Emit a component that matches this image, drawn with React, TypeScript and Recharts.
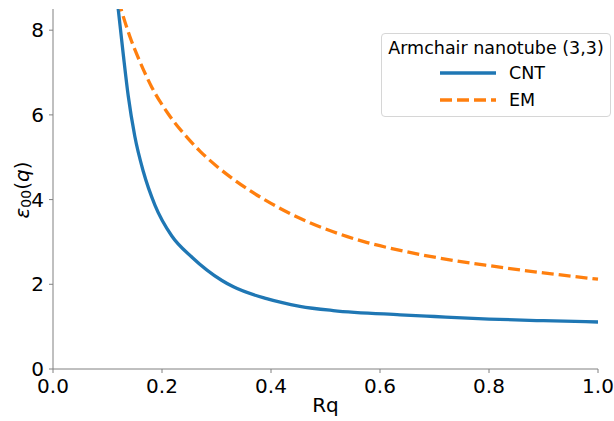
import React from 'react';
import { LineChart, Line, XAxis, YAxis } from 'recharts';

const cntRq = [0.112, 0.12, 0.129, 0.138, 0.15, 0.166, 0.187, 0.218, 0.255, 0.31, 0.331, 0.392, 0.453, 0.514, 0.637, 0.7, 0.8, 0.9, 1.0];
const cntValues = [9.5, 8.46, 7.42, 6.45, 5.5, 4.65, 3.87, 3.14, 2.64, 2.09, 1.94, 1.66, 1.48, 1.38, 1.28, 1.24, 1.18, 1.14, 1.11];
const emRq = [0.12, 0.126, 0.141, 0.16, 0.181, 0.2116, 0.248, 0.27, 0.303, 0.331, 0.392, 0.453, 0.514, 0.575, 0.637, 0.7, 0.8, 0.9, 1.0];
const emValues = [8.72, 8.45, 7.85, 7.24, 6.66, 6.02, 5.44, 5.14, 4.76, 4.48, 3.97, 3.56, 3.24, 2.99, 2.8, 2.64, 2.44, 2.27, 2.12];

const xTicks = [0, 0.2, 0.4, 0.6, 0.8, 1.0];
const yTicks = [0, 2, 4, 6, 8];

const legendTitle = 'Armchair nanotube (3,3)';
const series = [
  { key: 'cnt', name: 'CNT', color: '#1f77b4', dash: undefined as string | undefined, data: cntRq.map((rq, i) => ({ rq, v: cntValues[i] })) },
  { key: 'em', name: 'EM', color: '#ff7f0e', dash: '12 5', data: emRq.map((rq, i) => ({ rq, v: emValues[i] })) },
];

const FONT = '"DejaVu Sans", sans-serif';
const AXIS_GRAY = '#808080';

const YLabel = () => (
  <text
    transform="translate(22, 190) rotate(-90)"
    textAnchor="middle"
    dominantBaseline="central"
    fontFamily={FONT}
    fontSize={20}
    fill="#000"
  >
    <tspan fontStyle="italic">ε</tspan>
    <tspan fontSize={14} dy={4}>00</tspan>
    <tspan dy={-4}>(</tspan>
    <tspan fontStyle="italic">q</tspan>
    <tspan>)</tspan>
  </text>
);

// legend drawn as an overlay so it doesn't eat into the plot area
const LegendBox = () => (
  <div
    style={{
      position: 'absolute',
      left: 381,
      top: 33,
      width: 230,
      height: 84,
      border: '1px solid #d6d6d6',
      borderRadius: 4,
      background: 'rgba(255,255,255,0.85)',
      fontFamily: FONT,
      fontSize: 17.5,
      color: '#000',
      boxSizing: 'border-box',
      paddingTop: 3,
    }}
  >
    <div style={{ textAlign: 'center', lineHeight: '22px', whiteSpace: 'nowrap' }}>{legendTitle}</div>
    {series.map((s) => (
      <div key={s.key} style={{ display: 'flex', alignItems: 'center', height: 27, paddingLeft: 58 }}>
        <svg width={58} height={10} style={{ marginRight: 11 }}>
          <line x1={0} y1={5} x2={56} y2={5} stroke={s.color} strokeWidth={3.3} strokeDasharray={s.dash} />
        </svg>
        <span>{s.name}</span>
      </div>
    ))}
  </div>
);

export default function App() {
  return (
    <div style={{ position: 'absolute', left: 0, top: 0, width: 614, height: 421, background: '#fff' }}>
      <LineChart width={614} height={421} margin={{ top: 9, right: 16, left: 8, bottom: 7 }}>
        <XAxis
          dataKey="rq"
          type="number"
          domain={[0, 1]}
          ticks={xTicks}
          tickFormatter={(v: number) => v.toFixed(1)}
          height={45}
          stroke={AXIS_GRAY}
          tickSize={4}
          tickMargin={6}
          allowDuplicatedCategory={false}
          tick={{ fill: '#000', fontSize: 20, fontFamily: FONT }}
          label={{ value: 'Rq', position: 'insideBottom', offset: 2, fill: '#000', fontSize: 20, fontFamily: FONT }}
        />
        <YAxis
          type="number"
          domain={[0, 8.5]}
          allowDataOverflow
          ticks={yTicks}
          width={45}
          stroke={AXIS_GRAY}
          tickSize={4}
          tickMargin={5}
          tick={{ fill: '#000', fontSize: 20, fontFamily: FONT }}
          label={<YLabel />}
        />
        {series.map((s) => (
          <Line
            key={s.key}
            data={s.data}
            type="monotone"
            dataKey="v"
            name={s.name}
            stroke={s.color}
            strokeWidth={3.3}
            strokeDasharray={s.dash}
            dot={false}
            isAnimationActive={false}
          />
        ))}
      </LineChart>
      <LegendBox />
    </div>
  );
}
